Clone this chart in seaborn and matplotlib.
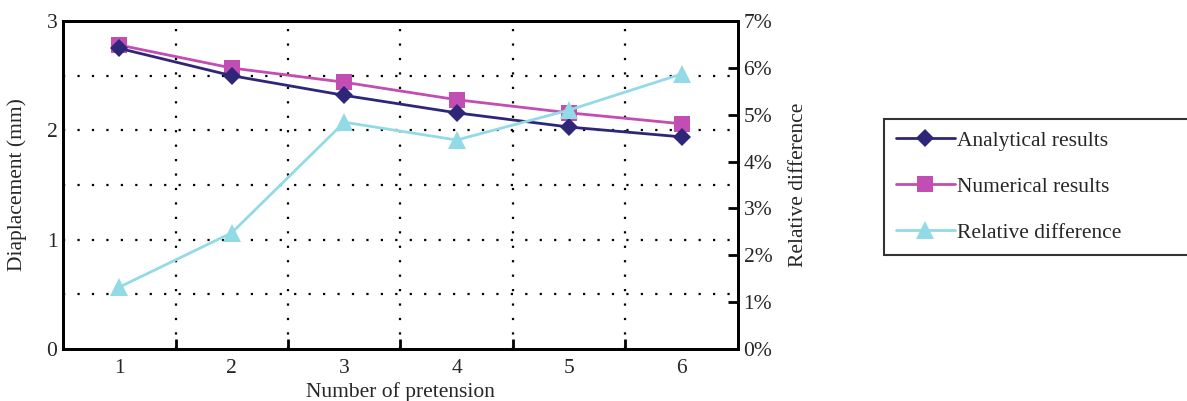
import matplotlib
matplotlib.use("Agg")
import matplotlib.pyplot as plt
from matplotlib.lines import Line2D
from matplotlib.ticker import FixedLocator, FuncFormatter
import seaborn as sns
import pandas as pd

# Data
pretension = [1, 2, 3, 4, 5, 6]
analytical = [2.75, 2.50, 2.32, 2.16, 2.03, 1.94]
numerical = [2.78, 2.57, 2.44, 2.28, 2.16, 2.06]
relative_diff = [1.32, 2.48, 4.84, 4.46, 5.10, 5.87]  # percent

c_ana = "#2e2679"
c_num = "#c24db3"
c_rel = "#92dbe6"

sns.set_style("white")
plt.rcParams["font.family"] = ["Liberation Serif", "DejaVu Serif"]

FS = 15.5

df = pd.DataFrame({
    "pretension": pretension,
    "analytical": analytical,
    "numerical": numerical,
    "relative": relative_diff,
})

fig = plt.figure(figsize=(11.87, 4.01), dpi=100)
ax = fig.add_axes([0.0531, 0.1297, 0.5686, 0.8179])
ax2 = ax.twinx()

sns.lineplot(data=df, x="pretension", y="analytical", ax=ax, color=c_ana,
             marker="D", markersize=9, markeredgewidth=0, linewidth=2, zorder=4)
sns.lineplot(data=df, x="pretension", y="numerical", ax=ax, color=c_num,
             marker="s", markersize=11, markeredgewidth=0, linewidth=2, zorder=3)
sns.lineplot(data=df, x="pretension", y="relative", ax=ax2, color=c_rel,
             marker="^", markersize=13, markeredgewidth=0, linewidth=2, zorder=3)

ax.set_xlim(0.5, 6.5)
ax.set_ylim(0, 3)
ax2.set_ylim(0, 7)

# Left axis
ax.set_yticks([0, 1, 2, 3])
ax.tick_params(axis="y", which="both", length=0, labelsize=FS, pad=4)

# Bottom axis: labels at category centers, ticks at boundaries
ax.set_xticks(pretension)
ax.xaxis.set_minor_locator(FixedLocator([1.5, 2.5, 3.5, 4.5, 5.5]))
ax.tick_params(axis="x", which="major", length=0, labelsize=FS, pad=7)
ax.tick_params(axis="x", which="minor", direction="in", length=7, width=2,
               bottom=True, color="black")

# Dotted grid
grid_kw = dict(color="black", linestyle=(0, (1, 5.5)), linewidth=1.6)
ax.xaxis.grid(True, which="minor", **grid_kw)
for yv in [0.5, 1.0, 1.5, 2.0, 2.5]:
    ax.axhline(yv, zorder=0, **grid_kw)
ax.yaxis.grid(False)

# Right axis
ax2.set_yticks(range(0, 8))
ax2.yaxis.set_major_formatter(FuncFormatter(lambda v, p: f"{int(v)}%"))
ax2.tick_params(axis="y", direction="in", length=7, width=2, labelsize=FS,
                pad=4, color="black")

for a in (ax, ax2):
    for s in a.spines.values():
        s.set_visible(True)
        s.set_linewidth(2)
        s.set_color("black")

ax.set_xlabel("Number of pretension", fontsize=FS, labelpad=3)
ax.set_ylabel("Diaplacement (mm)", fontsize=FS, labelpad=14)
ax2.set_ylabel("Relative difference", fontsize=FS, labelpad=12)

handles = [
    Line2D([], [], color=c_ana, marker="D", markersize=9, markeredgewidth=0, linewidth=2),
    Line2D([], [], color=c_num, marker="s", markersize=11, markeredgewidth=0, linewidth=2),
    Line2D([], [], color=c_rel, marker="^", markersize=13, markeredgewidth=0, linewidth=2),
]
labels = ["Analytical results", "Numerical results", "Relative difference"]
x0 = 884 / 1187
leg = fig.legend(handles, labels, loc="upper left", mode="expand",
                 bbox_to_anchor=(x0, 1 - 252 / 401, 1.01 - x0, 133 / 401),
                 frameon=True, fancybox=False, fontsize=FS,
                 handlelength=2.75, handletextpad=0.1, labelspacing=1.2,
                 borderpad=0.55, borderaxespad=0)
leg.get_frame().set_edgecolor("black")
leg.get_frame().set_linewidth(1.5)

fig.savefig("out.png", dpi=100)
